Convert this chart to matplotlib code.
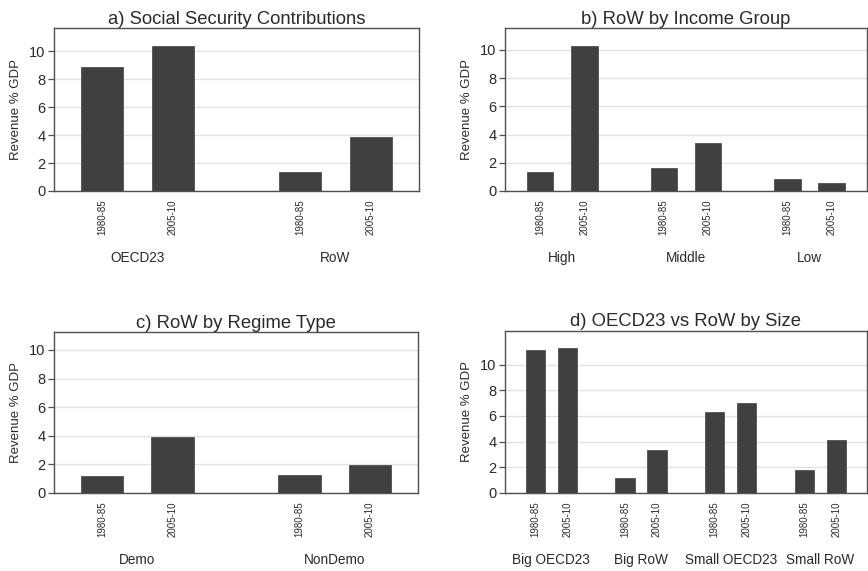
import numpy as np
import matplotlib
matplotlib.use("Agg")
import matplotlib.pyplot as plt

plt.rcParams['font.family'] = ['Liberation Sans', 'DejaVu Sans']

# Revenue % GDP, 1980-85 vs 2005-10
periods = ['1980-85', '2005-10']

groups_a = ['OECD23', 'RoW']
vals_a = [[8.9, 10.38], [1.38, 3.88]]

groups_b = ['High', 'Middle', 'Low']
vals_b = [[1.38, 10.3], [1.61, 3.38], [0.83, 0.55]]

groups_c = ['Demo', 'NonDemo']
vals_c = [[1.18, 3.88], [1.27, 1.97]]

groups_d = ['Big OECD23', 'Big RoW', 'Small OECD23', 'Small RoW']
vals_d = [[11.17, 11.28], [1.13, 3.37], [6.34, 7.02], [1.75, 4.13]]

panels = [
    ('a) Social Security Contributions', groups_a, vals_a, 11.67, 0.68, [0.0622, 0.6655, 0.4205, 0.2855]),
    ('b) RoW by Income Group', groups_b, vals_b, 11.56, 0.8, [0.5815, 0.6655, 0.4174, 0.2855]),
    ('c) RoW by Regime Type', groups_c, vals_c, 11.28, 0.68, [0.0622, 0.1371, 0.4194, 0.2820]),
    ('d) OECD23 vs RoW by Size', groups_d, vals_d, 12.67, 0.95, [0.5815, 0.1371, 0.4174, 0.2838]),
]

bar_col = '#404040'
frame_col = '#505050'
text_col = '#2a2a2a'
step = 2.8   # distance between groups, in bar spacings

fig = plt.figure(figsize=(8.68, 5.71), dpi=100)

for title, groups, vals, ytop, margin, rect in panels:
    ax = fig.add_axes(rect)
    xs, hs, labs = [], [], []
    for g, pair in enumerate(vals):
        for j, v in enumerate(pair):
            xs.append(g * step + j)
            hs.append(v)
            labs.append(periods[j])
    ax.bar(xs, hs, width=0.6, color=bar_col, edgecolor=bar_col, linewidth=0.5, zorder=3)
    ax.set_xlim(-margin, (len(groups) - 1) * step + 1 + margin)
    ax.set_ylim(0, ytop)
    ax.set_yticks([0, 2, 4, 6, 8, 10])
    ax.yaxis.grid(True, color='#e2e2e2', linewidth=1.0, zorder=0)
    ax.set_axisbelow(True)
    ax.set_xticks(xs)
    ax.set_xticklabels(labs, rotation=90, fontsize=7, color=text_col)
    ax.tick_params(axis='x', length=0, pad=6)
    ax.tick_params(axis='y', length=4, width=0.9, color=frame_col, labelsize=10.5,
                   labelcolor=text_col, pad=2)
    for s in ax.spines.values():
        s.set_color(frame_col)
        s.set_linewidth(1.0)
    ax.set_ylabel('Revenue % GDP', fontsize=9.5, color=text_col, labelpad=5)
    ax.set_title(title, fontsize=13.3, color=text_col, pad=3)
    for g, name in enumerate(groups):
        ax.annotate(name, xy=(g * step + 0.5, 0), xycoords=('data', 'axes fraction'),
                    xytext=(0, -48.5), textcoords='offset points',
                    ha='center', va='center', fontsize=9.8, color=text_col)

fig.savefig('out.png', dpi=100)
